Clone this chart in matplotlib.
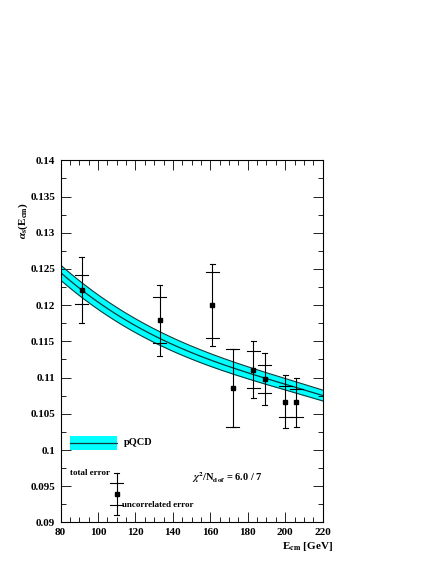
import matplotlib
matplotlib.use('Agg')
import matplotlib.pyplot as plt
from matplotlib.ticker import MultipleLocator, FuncFormatter
import numpy as np

# measurements
energies = [91.2, 133.0, 161.0, 172.0, 183.0, 189.0, 200.0, 206.0]
alpha_s = [0.1221, 0.1179, 0.1200, 0.1086, 0.1111, 0.1098, 0.1067, 0.1066]
tot_up = [0.1266, 0.1228, 0.1257, 0.1140, 0.1151, 0.1134, 0.1103, 0.1099]
tot_lo = [0.1176, 0.1130, 0.1144, 0.1032, 0.1072, 0.1062, 0.1030, 0.1032]
unc_up = [0.1241, 0.1211, 0.1246, 0.1140, 0.1137, 0.1118, 0.1088, 0.1084]
unc_lo = [0.1201, 0.1148, 0.1155, 0.1032, 0.1085, 0.1079, 0.1045, 0.1046]

# pQCD band
band_e = [80, 95, 110, 125, 140, 155, 170, 185, 200, 220]
band_c = [0.1244, 0.1215, 0.1188, 0.1164, 0.1144, 0.1129, 0.1116, 0.1103, 0.1091, 0.1075]
band_hw = [0.0011, 0.0010, 0.0010, 0.0009, 0.0009, 0.0009, 0.0008, 0.0008, 0.0008, 0.0008]

# legend sample point
leg_e = 110.0
leg_val = 0.0939
leg_tot = (0.0910, 0.0969)
leg_unc = (0.0924, 0.0954)

plt.rcParams['font.family'] = ['Liberation Serif', 'DejaVu Serif']
plt.rcParams['font.weight'] = 'bold'
plt.rcParams['mathtext.fontset'] = 'stix'

fig = plt.figure(figsize=(4.36, 5.64), dpi=100)
ax = fig.add_axes([0.139, 0.0736, 0.601, 0.6422])

# smooth curve through the read points (display only)
xs = np.linspace(80, 220, 200)
pc = np.polyfit(band_e, band_c, 3)
pw = np.polyfit(band_e, band_hw, 1)
cs = np.polyval(pc, xs)
ws = np.polyval(pw, xs)
ax.fill_between(xs, cs - ws, cs + ws, color='#00ffff', lw=0)
ax.plot(xs, cs, color='#0a3a3a', lw=0.9)
ax.plot(xs, cs - ws, color='#0a3a3a', lw=0.8)
ax.plot(xs, cs + ws, color='#0a3a3a', lw=0.8)


def draw_point(ax, e, v, tlo, tup, ulo, uup):
    ax.plot([e, e], [tlo, tup], color='k', lw=0.8)
    ax.plot([e - 1.4, e + 1.4], [tlo, tlo], color='k', lw=0.8)
    ax.plot([e - 1.4, e + 1.4], [tup, tup], color='k', lw=0.8)
    ax.plot([e - 3.4, e + 3.4], [ulo, ulo], color='k', lw=0.8)
    ax.plot([e - 3.4, e + 3.4], [uup, uup], color='k', lw=0.8)
    ax.plot([e], [v], marker='s', color='k', ms=3.5, lw=0)


for i in range(len(energies)):
    draw_point(ax, energies[i], alpha_s[i], tot_lo[i], tot_up[i], unc_lo[i], unc_up[i])

# legend
ax.fill_between([85, 110], [0.1000, 0.1000], [0.1020, 0.1020], color='#00ffff', lw=0)
ax.plot([85, 110], [0.1010, 0.1010], color='#0a3a3a', lw=0.9)
ax.text(114, 0.1010, 'pQCD', fontsize=7.5, va='center', ha='left')
draw_point(ax, leg_e, leg_val, leg_tot[0], leg_tot[1], leg_unc[0], leg_unc[1])
ax.text(85, 0.0969, 'total error', fontsize=6.5, va='center', ha='left')
ax.text(113, 0.0924, 'uncorrelated error', fontsize=6.5, va='center', ha='left')
ax.text(150, 0.0962, r'$\chi^2$/N$_{\rm dof}$ = 6.0 / 7', fontsize=7.5, va='center', ha='left')

ax.set_xlim(80, 220)
ax.set_ylim(0.09, 0.14)
ax.xaxis.set_major_locator(MultipleLocator(20))
ax.xaxis.set_minor_locator(MultipleLocator(5))
ax.yaxis.set_major_locator(MultipleLocator(0.005))
ax.yaxis.set_minor_locator(MultipleLocator(0.0025))
ax.yaxis.set_major_formatter(FuncFormatter(lambda v, p: '%g' % round(v, 4)))
ax.tick_params(which='both', direction='in', top=True, right=True, labelsize=8, width=0.6)
ax.tick_params(which='major', length=7, pad=4)
ax.tick_params(which='minor', length=3.5)
for s in ax.spines.values():
    s.set_linewidth(0.8)

ax.text(1.04, -0.067, r'E$_{\rm cm}$ [GeV]', transform=ax.transAxes, ha='right', va='center', fontsize=8)
ax.text(-0.144, 0.835, r'$\alpha_{\rm s}$(E$_{\rm cm}$)', transform=ax.transAxes, rotation=90,
        ha='center', va='center', fontsize=8)

fig.savefig('out.png', dpi=100)
